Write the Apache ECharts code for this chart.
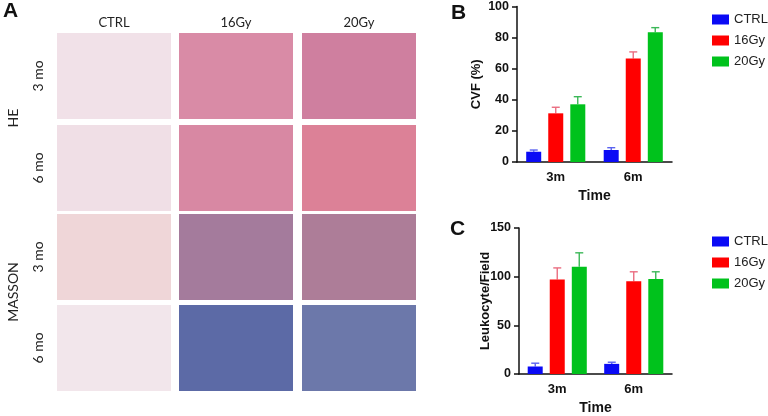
<!DOCTYPE html>
<html>
<head>
    <meta charset="utf-8">
    <title>CVF / Leukocyte</title>
    <script src="https://cdn.jsdelivr.net/npm/echarts@6/dist/echarts.min.js"></script>
    <style>
        body { margin: 0; background: #fff; }
    </style>
</head>
<body>
    <div id="main" style="width: 768px;height:416px;"></div>
    <script type="text/javascript">
    // data
    var groups = ['CTRL', '16Gy', '20Gy'];
    var timePoints = ['3m', '6m'];
    var colors = ['#0a0af5', '#ff0000', '#00c21c'];
    var errColors = ['#5a62f0', '#ea6d80', '#3cb858'];

    // panel B: CVF (%)
    var cvfCtrl = [6.6, 7.7];
    var cvf16 = [31.3, 66.5];
    var cvf20 = [37.1, 83.4];
    var cvfCtrlErr = [1.1, 1.5];
    var cvf16Err = [3.9, 4.3];
    var cvf20Err = [4.9, 3.0];

    // panel C: Leukocyte/Field
    var leuCtrl = [7.7, 10.4];
    var leu16 = [97.2, 95.2];
    var leu20 = [110.3, 97.5];
    var leuCtrlErr = [3.4, 1.7];
    var leu16Err = [11.8, 9.8];
    var leu20Err = [14.2, 7.5];

    // panel A: stain rows / columns (photos shown as flat tiles)
    var stains = ['HE', 'MASSON'];
    var months = ['3 mo', '6 mo'];
    var tileColors = [
        ['#f1e1e8', '#d98ba6', '#cf7f9f'],
        ['#f0dfe6', '#d888a3', '#dc8197'],
        ['#efd6d8', '#a47b9c', '#ad7d98'],
        ['#f2e6eb', '#5c6aa6', '#6c78aa']
    ];

    var myChart = echarts.init(document.getElementById('main'));
    var boldFont = 'Liberation Sans';

    // panel A graphics
    var colX = [57, 179, 302];
    var rowY = [33, 125, 214, 305];
    var tileW = 114, tileH = 86;
    var graphics = [];
    for (var r = 0; r < 4; r++) {
        for (var c = 0; c < 3; c++) {
            graphics.push({
                type: 'rect',
                shape: { x: colX[c], y: rowY[r], width: tileW, height: tileH },
                style: { fill: tileColors[r][c] }
            });
        }
        graphics.push({
            type: 'text',
            x: 38, y: rowY[r] + tileH / 2,
            rotation: Math.PI / 2,
            style: { text: months[r % 2], font: '14px Lato', fill: '#222', align: 'center', verticalAlign: 'middle' }
        });
    }
    for (var c = 0; c < 3; c++) {
        graphics.push({
            type: 'text',
            x: colX[c] + tileW / 2, y: 23,
            style: { text: groups[c], font: '13px Lato', fill: '#222', align: 'center', verticalAlign: 'middle' }
        });
    }
    graphics.push({
        type: 'text', x: 13, y: 118, rotation: Math.PI / 2,
        style: { text: stains[0], font: '14px Lato', fill: '#222', align: 'center', verticalAlign: 'middle' }
    });
    graphics.push({
        type: 'text', x: 13, y: 292, rotation: Math.PI / 2,
        style: { text: stains[1], font: '14px Lato', fill: '#222', align: 'center', verticalAlign: 'middle' }
    });
    // panel letters
    [['A', 3, 11], ['B', 451, 13], ['C', 450, 229]].forEach(function (p) {
        graphics.push({
            type: 'text', x: p[1], y: p[2],
            style: { text: p[0], font: 'bold 21px ' + boldFont, fill: '#111', verticalAlign: 'middle' }
        });
    });

    function errSeries(gridIdx, idx, means, errs) {
        var data = [];
        for (var i = 0; i < means.length; i++) {
            data.push([i, means[i], means[i] + errs[i]]);
        }
        return {
            type: 'custom',
            xAxisIndex: gridIdx,
            yAxisIndex: gridIdx,
            z: 1,
            silent: true,
            data: data,
            renderItem: function (params, api) {
                var center = api.coord([api.value(0), api.value(1)]);
                var top = api.coord([api.value(0), api.value(2)]);
                var x = center[0] + (idx - 1) * 22;
                return {
                    type: 'group',
                    children: [{
                        type: 'line',
                        shape: { x1: x, y1: center[1], x2: x, y2: top[1] },
                        style: { stroke: errColors[idx], lineWidth: 1.4 }
                    }, {
                        type: 'line',
                        shape: { x1: x - 4, y1: top[1], x2: x + 4, y2: top[1] },
                        style: { stroke: errColors[idx], lineWidth: 1.4 }
                    }]
                };
            }
        };
    }

    function barSeries(gridIdx, idx, values) {
        return {
            name: groups[idx],
            type: 'bar',
            xAxisIndex: gridIdx,
            yAxisIndex: gridIdx,
            barWidth: 15,
            barGap: '47%',
            z: 2,
            itemStyle: { color: colors[idx] },
            data: values
        };
    }

    var axisLine = { lineStyle: { color: '#111', width: 1.5 } };
    var labelStyle = { color: '#111', fontWeight: 'bold', fontSize: 12.5, fontFamily: boldFont };
    var nameStyle = { color: '#111', fontWeight: 'bold', fontSize: 13, fontFamily: boldFont };

    function xAxisFor(gridIdx) {
        return {
            type: 'category',
            gridIndex: gridIdx,
            data: timePoints,
            axisLine: axisLine,
            axisTick: { alignWithLabel: true, length: 5, lineStyle: { color: '#111', width: 1.5 } },
            axisLabel: Object.assign({}, labelStyle, { margin: 9, fontSize: 13 }),
            name: 'Time',
            nameLocation: 'middle',
            nameGap: 27,
            nameMoveOverlap: false,
            nameTextStyle: Object.assign({}, nameStyle, { fontSize: 14 }),
            splitLine: { show: false }
        };
    }

    function yAxisFor(gridIdx, max, interval, name, gap) {
        return {
            type: 'value',
            gridIndex: gridIdx,
            min: 0,
            max: max,
            interval: interval,
            axisLine: { show: true, lineStyle: { color: '#111', width: 1.5 } },
            axisTick: { show: true, length: 5, lineStyle: { color: '#111', width: 1.5 } },
            axisLabel: Object.assign({ margin: 8 }, labelStyle),
            splitLine: { show: false },
            name: name,
            nameLocation: 'middle',
            nameRotate: 90,
            nameGap: gap,
            nameMoveOverlap: false,
            nameTextStyle: nameStyle
        };
    }

    function legendFor(top) {
        return {
            data: groups,
            orient: 'vertical',
            left: 707,
            top: top,
            icon: 'rect',
            itemWidth: 17,
            itemHeight: 10,
            itemGap: 8,
            textStyle: { fontSize: 13, color: '#222', fontFamily: boldFont }
        };
    }

    var option = {
        animation: false,
        graphic: graphics,
        legend: [legendFor(8), legendFor(230)],
        grid: [
            { left: 517, top: 6, width: 155, height: 156 },
            { left: 519, top: 228, width: 153, height: 148 }
        ],
        xAxis: [xAxisFor(0), xAxisFor(1)],
        yAxis: [
            yAxisFor(0, 100, 20, 'CVF (%)', 34),
            yAxisFor(1, 150, 50, 'Leukocyte/Field', 27)
        ],
        series: [
            barSeries(0, 0, cvfCtrl),
            barSeries(0, 1, cvf16),
            barSeries(0, 2, cvf20),
            errSeries(0, 0, cvfCtrl, cvfCtrlErr),
            errSeries(0, 1, cvf16, cvf16Err),
            errSeries(0, 2, cvf20, cvf20Err),
            barSeries(1, 0, leuCtrl),
            barSeries(1, 1, leu16),
            barSeries(1, 2, leu20),
            errSeries(1, 0, leuCtrl, leuCtrlErr),
            errSeries(1, 1, leu16, leu16Err),
            errSeries(1, 2, leu20, leu20Err)
        ]
    };
    myChart.setOption(option);
    </script>
</body>
</html>
